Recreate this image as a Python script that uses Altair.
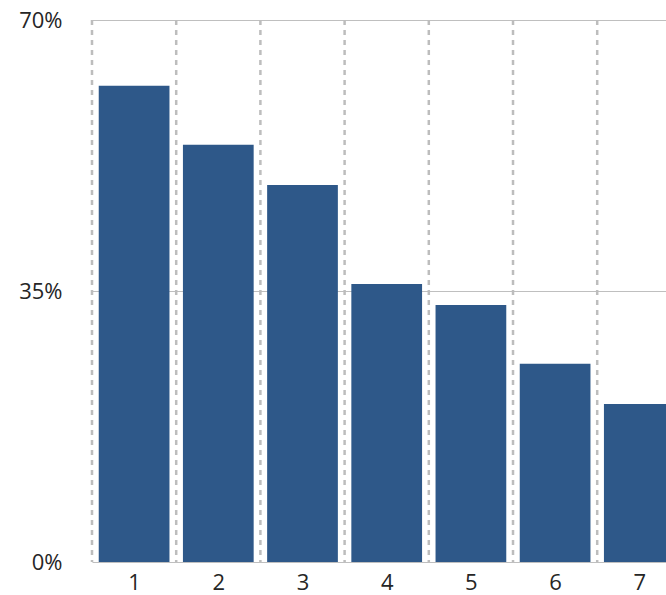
import altair as alt
import pandas as pd

categories = [1, 2, 3, 4, 5, 6, 7]
shares = [0.615, 0.539, 0.487, 0.359, 0.332, 0.256, 0.204]
y_ticks = [0, 0.35, 0.70]

df = pd.DataFrame({"cat": categories, "share": shares})

xscale = alt.Scale(domain=[0.5, 7.317], nice=False, zero=False)
yscale = alt.Scale(domain=[0, 0.7], nice=False)

xaxis = alt.Axis(
    values=categories, title=None, grid=False, ticks=False, tickSize=0,
    domain=False, labelFontSize=22, labelPadding=10, labelColor="#262626",
    labelFont="Open Sans", labelFlush=False, labelOverlap=False, format="d",
)
yaxis = alt.Axis(
    values=y_ticks, format=".0%", title=None, grid=True, gridColor="#BFBFBF",
    gridWidth=1, ticks=False, tickSize=0, domain=False, labelFontSize=22,
    labelPadding=30, labelColor="#262626", labelFont="Open Sans",
    labelFlush=False, labelOverlap=False,
)

base = alt.Chart(df)

rules = base.transform_calculate(xs="datum.cat - 0.5").mark_rule(
    color="#BDBDBD", strokeWidth=2.5, strokeDash=[5, 5]
).encode(
    x=alt.X("xs:Q", scale=xscale, axis=xaxis),
)

bars = base.transform_calculate(
    x0="datum.cat - 0.42", x1="datum.cat + 0.42"
).mark_bar(color="#2E5889", clip=True).encode(
    x=alt.X("x0:Q", scale=xscale, axis=xaxis),
    x2="x1:Q",
    y=alt.Y("share:Q", scale=yscale, axis=yaxis),
    y2=alt.datum(0),
)

chart = alt.layer(rules, bars).properties(
    width=574,
    height=542,
    autosize="none",
    padding={"left": 92, "top": 20, "right": 0, "bottom": 33},
    background="white",
).configure_view(strokeWidth=0)

chart.save("out.html", embed_options={"renderer": "svg", "actions": False})
